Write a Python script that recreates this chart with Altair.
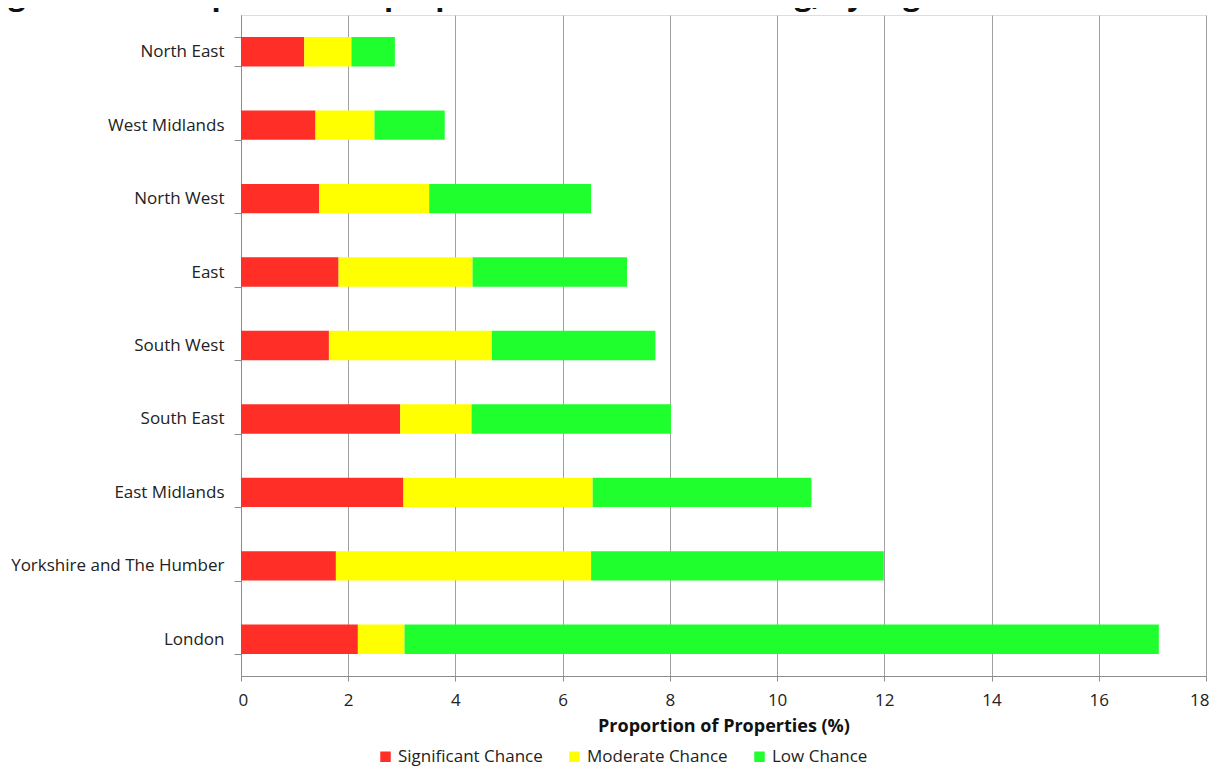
import altair as alt
import pandas as pd

title_text = "Figure 7.2 i. Proportions of properties at risk of flooding, by region"
regions = ["North East", "West Midlands", "North West", "East", "South West",
           "South East", "East Midlands", "Yorkshire and The Humber", "London"]
significant = [1.18, 1.39, 1.46, 1.82, 1.64, 2.97, 3.03, 1.77, 2.18]
moderate = [0.88, 1.10, 2.05, 2.50, 3.04, 1.33, 3.53, 4.76, 0.87]
low = [0.81, 1.31, 3.02, 2.88, 3.05, 3.72, 4.08, 5.46, 14.07]
series = ["Significant Chance", "Moderate Chance", "Low Chance"]
colors = ["#ff2e26", "#ffff00", "#20ff2e"]
x_ticks = [0, 2, 4, 6, 8, 10, 12, 14, 16, 18]

rows = []
for i, r in enumerate(regions):
    for k, (name, vals) in enumerate(zip(series, [significant, moderate, low])):
        rows.append({"Region": r, "Risk": name, "Value": vals[i], "order": k})
df = pd.DataFrame(rows)

FONT = "Open Sans"

bars = alt.Chart(df).mark_bar().encode(
    y=alt.Y("Region:N", sort=regions, title=None,
            scale=alt.Scale(paddingInner=0.6, paddingOuter=0.3),
            axis=alt.Axis(tickBand="extent", labelFont=FONT, labelFontSize=17,
                          labelColor="#222222", labelPadding=10, tickSize=7,
                          tickColor="#8c8c8c", domainColor="#8c8c8c", grid=False,
                          labelLimit=400)),
    x=alt.X("Value:Q", stack="zero", title="Proportion of Properties (%)",
            scale=alt.Scale(domain=[0, 18], nice=False),
            axis=alt.Axis(values=x_ticks, labelFont=FONT, labelFontSize=17,
                          labelColor="#222222", labelPadding=11, tickSize=5,
                          labelFlush=1, labelFlushOffset=3,
                          tickColor="#8c8c8c", domainColor="#8c8c8c",
                          grid=True, gridColor="#a0a0a0", gridWidth=1,
                          titleFont=FONT, titleFontSize=18, titleFontWeight="bold",
                          titleColor="#111111", titlePadding=9)),
    color=alt.Color("Risk:N", sort=series,
                    scale=alt.Scale(domain=series, range=colors),
                    legend=alt.Legend(title=None, orient="none", direction="horizontal",
                                      legendX=136, legendY=733,
                                      symbolType="square", symbolSize=110,
                                      symbolStrokeWidth=0, labelFont=FONT,
                                      labelFontSize=17, labelColor="#222222",
                                      labelOffset=4, columnPadding=23)),
    order=alt.Order("order:Q"),
)

title = alt.Chart(pd.DataFrame({"t": [title_text]})).mark_text(
    font=FONT, fontSize=30, fontWeight="bold", color="#111111",
    align="left", baseline="alphabetic"
).encode(text="t:N", x=alt.value(-258), y=alt.value(-10))

chart = alt.layer(bars, title).properties(
    width=965, height=661,
    autosize=alt.AutoSizeParams(type="none"),
    padding={"left": 233, "top": 7, "right": 4, "bottom": 92},
).configure_view(stroke=None).configure(background="white")

chart.save("out.html", embed_options={"renderer": "svg", "actions": False})
